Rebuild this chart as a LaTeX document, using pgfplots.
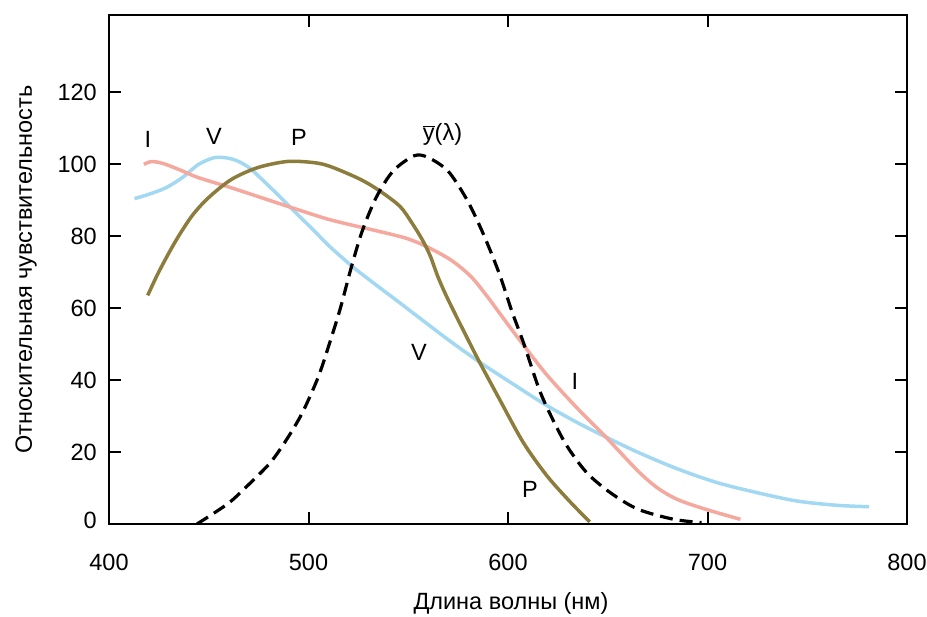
\documentclass[border=0pt]{standalone}
\usepackage{pgfplots}
\pgfplotsset{compat=1.18}
\usepackage{fontspec}
\setmainfont{Liberation Sans}
\definecolor{vblue}{HTML}{A3D8F2}
\definecolor{ipink}{HTML}{F4A89E}
\definecolor{polive}{HTML}{8C7D3C}

\pgfplotstableread{
x y
412.8 90.4
420 91.6
428.5 93.4
436.7 96.2
444.9 99.9
453 101.8
460 101.6
465 100.7
470.7 98.8
477.3 95.4
485.7 90.9
493 86.8
502.4 81.7
510.8 77
522.5 71.3
532 67.2
543 62.6
556 57.1
570 51.2
585.7 45
603.6 38.5
619.5 32.9
635 28.1
649.3 24.1
665.2 19.9
685 15.3
704.8 11.5
724.9 8.7
744.7 6.4
764.6 5.2
781 4.8
}\vdata

\pgfplotstableread{
x y
417.5 99.9
420.5 100.6
423.5 100.6
428.5 99.9
436.7 98.1
444.9 96.2
461.3 93.4
477.8 90.4
492 87.8
509 84.8
522 83.0
535.3 81.3
549.4 79.3
559.4 77
571.5 73.3
581.5 68.7
589.6 63.2
597.6 57.2
606 51
619.5 41.4
635 32
648.3 24.6
665 14.8
675 10
685 6.8
699 4.1
716.5 1.3
}\idata

\pgfplotstableread{
x y
419.4 63.5
425.2 70.3
433.4 78.6
441.6 85.6
449.8 90.6
461.3 95.7
474.5 99
489.3 100.7
502.5 100.4
511 99.3
525.8 95.8
535.8 92.5
545.9 88.2
552 83.5
557 79
561 74.5
565 68.5
570 62.3
579.7 51.5
585.7 45
595.6 34.8
607.6 22.7
619.5 13.4
631.4 6
641 0.6
}\pdata

\pgfplotstableread{
x y
444.1 0
453.1 3.2
461.3 6.4
471.2 11.6
481.1 17.2
489.3 23.7
497 31
505 41
511 51
516 60
521.3 71
527 81.5
534.2 91
542.5 98.1
553 102.3
560 101.8
570 98
579.5 90
587.6 80.6
595.6 69.6
602 59
607.6 50.6
615.5 37.6
621.5 30.1
629.4 21.8
639.4 14.3
651.3 8.7
665.2 4.1
683.1 1.3
697 0.4
}\ydata

\begin{document}
\fontsize{23.5bp}{28bp}\selectfont
\begin{tikzpicture}
\begin{axis}[
  name=ax,
  scale only axis,
  width=798bp, height=509bp,
  xmin=400, xmax=800, ymin=0, ymax=141.4,
  xtick={400,500,600,700,800},
  ytick={0,20,40,60,80,100,120},
  tick align=inside,
  major tick length=12bp,
  axis line style={line width=2bp},
  tick style={line width=2bp, black},
  /pgf/number format/assume math mode=true,
  ticklabel style={font=\fontsize{23.5bp}{28bp}\selectfont},
  xticklabel style={anchor=base, inner sep=0pt, yshift=-46.5bp},
  yticklabel style={anchor=east, inner sep=0pt, xshift=-12bp},
  yticklabel={\ifnum\ticknum=0 \raisebox{7bp}{\pgfmathprintnumber{\tick}}\else\pgfmathprintnumber{\tick}\fi},
  xlabel={Длина волны (нм)},
  ylabel={Относительная чувствительность},
  label style={font=\fontsize{23.5bp}{28bp}\selectfont, inner sep=0pt},
  xlabel style={at={(axis description cs:0.5,0)}, anchor=base, yshift=-85bp, xshift=3bp},
  ylabel style={at={(axis description cs:0,0.5)}, anchor=base, yshift=77bp},
  clip=true,
]
\addplot[vblue, line width=3.5bp, smooth] table {\vdata};
\addplot[ipink, line width=3.5bp, smooth] table {\idata};
\addplot[polive, line width=3.5bp, smooth] table {\pdata};
\addplot[black, line width=3.2bp, smooth, dash pattern=on 13bp off 7bp] table {\ydata};

\node at (axis cs:419.5,106.7) {I};
\node at (axis cs:452.6,107.8) {V};
\node at (axis cs:495.2,107.5) {P};
\node at (axis cs:567.2,108.3) {$\overline{\mbox{y}}$(λ)};
\node at (axis cs:555.4,47.8) {V};
\node at (axis cs:633.5,39.5) {I};
\node at (axis cs:611,9.5) {P};
\end{axis}
\pgfresetboundingbox
\path (ax.south west) ++(-109bp,-93bp) rectangle ++(927bp,617bp);
\end{tikzpicture}
\end{document}
